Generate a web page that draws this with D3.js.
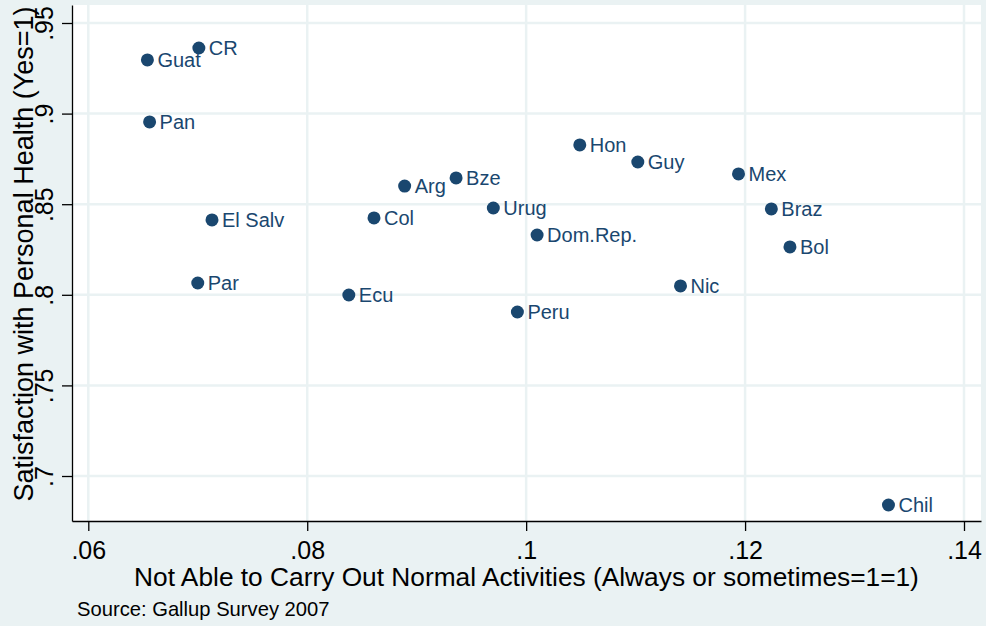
<!DOCTYPE html>
<html>
<head>
<meta charset="utf-8">
<script src="https://cdn.jsdelivr.net/npm/d3@7"></script>
<style>
  body { margin: 0; background: #eaf2f3; }
  svg { display: block; font-family: "Liberation Sans", Arial, sans-serif; }
</style>
</head>
<body>
<svg id="chart" width="986" height="626"></svg>
<script>
// Country labels and their values
const countries = ["Guat", "CR", "Pan", "El Salv", "Par", "Col", "Ecu", "Arg", "Bze", "Urug",
                   "Dom.Rep.", "Peru", "Hon", "Guy", "Nic", "Mex", "Braz", "Bol", "Chil"];
const notAble = [0.0654, 0.0701, 0.0656, 0.0713, 0.0700, 0.0861, 0.0838, 0.0889, 0.0936, 0.0970,
                 0.1010, 0.0992, 0.1049, 0.1102, 0.1141, 0.1194, 0.1224, 0.1241, 0.1331];
const satisfaction = [0.9296, 0.9362, 0.8954, 0.8413, 0.8065, 0.8424, 0.7999, 0.8600, 0.8645, 0.8479,
                      0.8330, 0.7905, 0.8827, 0.8733, 0.8049, 0.8667, 0.8474, 0.8264, 0.6840];

const xTicks = [0.06, 0.08, 0.10, 0.12, 0.14];
const xTickLabels = [".06", ".08", ".1", ".12", ".14"];
const yTicks = [0.70, 0.75, 0.80, 0.85, 0.90, 0.95];
const yTickLabels = [".7", ".75", ".8", ".85", ".9", ".95"];

const xTitle = "Not Able to Carry Out Normal Activities (Always or sometimes=1=1)";
const yTitle = "Satisfaction with Personal Health (Yes=1)";
const note = "Source: Gallup Survey 2007";

const svg = d3.select("#chart");
const navy = "#1a476f";
const gridColor = "#eaf2f3";

// Plot region
const plotLeft = 72, plotRight = 981, plotTop = 5, plotBottom = 521;

const x = d3.scaleLinear().domain([0.058511, 0.141553]).range([plotLeft, plotRight]);
const y = d3.scaleLinear().domain([0.67517, 0.95993]).range([plotBottom, plotTop]);

// White plot area
svg.append("rect")
    .attr("x", plotLeft).attr("y", plotTop)
    .attr("width", plotRight - plotLeft).attr("height", plotBottom - plotTop)
    .attr("fill", "#fff");

// Grid lines
const grid = svg.append("g").attr("stroke", gridColor).attr("stroke-width", 2.5);
grid.selectAll("line.gx")
    .data(xTicks)
    .join("line")
    .attr("class", "gx")
    .attr("x1", d => x(d)).attr("x2", d => x(d))
    .attr("y1", plotTop).attr("y2", plotBottom);
grid.selectAll("line.gy")
    .data(yTicks)
    .join("line")
    .attr("class", "gy")
    .attr("x1", plotLeft).attr("x2", plotRight)
    .attr("y1", d => y(d)).attr("y2", d => y(d));

// X axis
const xAxis = svg.append("g")
    .attr("transform", `translate(0,${plotBottom})`)
    .call(d3.axisBottom(x)
        .tickValues(xTicks)
        .tickFormat((d, i) => xTickLabels[i])
        .tickSize(10)
        .tickSizeOuter(0));
xAxis.select(".domain").attr("stroke", "#000").attr("stroke-width", 1.3);
xAxis.selectAll(".tick line").attr("stroke", "#000").attr("stroke-width", 1.3);
xAxis.selectAll(".tick text")
    .attr("y", 38).attr("dy", 0)
    .attr("fill", "#000")
    .attr("font-size", 25)
    .attr("font-family", "Liberation Sans, Arial, sans-serif");

// Y axis
const yAxis = svg.append("g")
    .attr("transform", `translate(${plotLeft},0)`)
    .call(d3.axisLeft(y)
        .tickValues(yTicks)
        .tickFormat((d, i) => yTickLabels[i])
        .tickSize(10)
        .tickSizeOuter(0));
yAxis.select(".domain").attr("stroke", "#000").attr("stroke-width", 1.3);
yAxis.selectAll(".tick line").attr("stroke", "#000").attr("stroke-width", 1.3);
yAxis.selectAll(".tick text")
    .attr("transform", "rotate(-90)")
    .attr("x", 0).attr("y", -19).attr("dy", 0)
    .attr("text-anchor", "middle")
    .attr("fill", "#000")
    .attr("font-size", 25)
    .attr("font-family", "Liberation Sans, Arial, sans-serif");

// Axis titles and note
svg.append("text")
    .attr("x", (plotLeft + plotRight) / 2).attr("y", 586)
    .attr("text-anchor", "middle")
    .attr("font-size", 26.3)
    .text(xTitle);

svg.append("text")
    .attr("transform", "translate(33,254) rotate(-90)")
    .attr("text-anchor", "middle")
    .attr("font-size", 27)
    .text(yTitle);

svg.append("text")
    .attr("x", 77).attr("y", 616)
    .attr("font-size", 20.2)
    .text(note);

// Points and labels
const points = countries.map((c, i) => ({ name: c, vx: notAble[i], vy: satisfaction[i] }));

svg.append("g")
    .selectAll("circle")
    .data(points)
    .join("circle")
    .attr("cx", d => x(d.vx))
    .attr("cy", d => y(d.vy))
    .attr("r", 6.5)
    .attr("fill", navy);

svg.append("g")
    .selectAll("text")
    .data(points)
    .join("text")
    .attr("x", d => x(d.vx) + 10)
    .attr("y", d => y(d.vy) + 7)
    .attr("fill", navy)
    .attr("font-size", 20)
    .text(d => d.name);
</script>
</body>
</html>
